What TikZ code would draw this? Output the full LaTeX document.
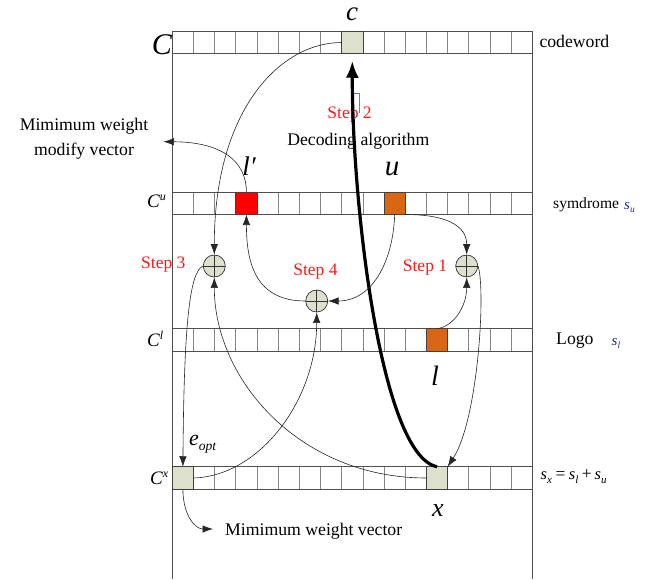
\documentclass[tikz,border=0pt]{standalone}
\usepackage{fontspec}
\setmainfont{Liberation Serif}
\usetikzlibrary{arrows.meta}
\definecolor{olivefill}{RGB}{220,224,205}
\definecolor{orangecell}{RGB}{217,102,18}
\definecolor{stepred}{RGB}{255,25,25}
\definecolor{cellline}{RGB}{135,135,135}
\definecolor{rowline}{RGB}{80,80,80}
\definecolor{sblue}{RGB}{30,40,130}
\definecolor{markblue}{RGB}{80,130,200}
\newcommand\fsz[1]{\fontsize{#1}{#1}\selectfont}
\begin{document}
\begin{tikzpicture}[x=1pt,y=-1pt,
  cell/.style={draw=cellline, line width=0.8pt, minimum width=21.18pt, minimum height=22.5pt, inner sep=0pt, outer sep=0pt},
  hcell/.style={cell, draw=black!75},
  xorc/.style={circle, draw=black!80, line width=0.7pt, fill=olivefill, minimum size=22pt, inner sep=0pt,
    path picture={\draw[black!80, line width=0.6pt] (path picture bounding box.north) -- (path picture bounding box.south) (path picture bounding box.west) -- (path picture bounding box.east);}},
  conn/.style={draw=black!85, line width=0.6pt},
  arr/.style={conn, -{Latex[length=10.5pt,width=7.5pt]}},
  bigarr/.style={draw=black, line width=3.2pt, -{Latex[length=17pt,width=13pt]}},
  steplbl/.style={text=stepred, font=\fsz{17.5}, inner sep=0pt},
  txt/.style={font=\fsz{17.7}, inner sep=0pt},
  ilbl/.style={inner sep=0pt},
]
\useasboundingbox (0,0) rectangle (664,579);

% frame
\draw[rowline, line width=0.8pt] (172.3,31.25) -- (172.3,579);
\draw[rowline, line width=0.8pt] (532.3,31.25) -- (532.3,579);

% rows of cells
\foreach \r/\y in {C/42.5, U/203.25, L/340, X/478}{
  \foreach \i in {0,...,16}{
    \node[cell] (\r\i) at ({172.3+21.18*(\i+0.5)},\y) {};
  }
  \draw[rowline, line width=0.8pt] (\r0.north west) rectangle (\r16.south east);
}

% highlighted cells
\node[hcell, fill=olivefill] (c) at (C8) {};
\node[hcell, fill=red] (lp) at (U3) {};
\node[hcell, fill=orangecell] (u) at (U10) {};
\node[hcell, fill=orangecell] (l) at (L12) {};
\node[hcell, fill=olivefill] (x) at (X12) {};
\node[hcell, fill=olivefill] (e) at (X0) {};

% xor circles
\node[xorc] (s3) at (214.3,266) {};
\node[xorc] (s4) at (316.7,301) {};
\node[xorc] (s1) at (466.7,266) {};

% row labels
\node[ilbl, anchor=base, font=\fsz{30}\itshape] (Clbl) at (162,54.3) {C};
\node[ilbl, anchor=base, font=\fsz{27}\itshape, text height=13pt, text depth=0pt] (clbl) at (352,20) {c};
\node[ilbl, anchor=base west] (Culbl) at (147,207) {{\fsz{19}\itshape C}\raisebox{7pt}{\fsz{12}\itshape u}};
\node[ilbl, anchor=base west] (Cllbl) at (147,346) {{\fsz{19}\itshape C}\raisebox{7pt}{\fsz{12}\itshape l}};
\node[ilbl, anchor=base west] (Cxlbl) at (150,484) {{\fsz{19}\itshape C}\raisebox{7pt}{\fsz{12}\itshape x}};

% cell labels
\node[ilbl, anchor=base, font=\fsz{27}\itshape] (lplbl) at (249,175) {l′};
\node[ilbl, anchor=base, font=\fsz{29}\itshape] (ulbl) at (392,175) {u};
\node[ilbl, anchor=base, font=\fsz{28}\itshape] (llbl) at (435,385) {l};
\node[ilbl, anchor=base, font=\fsz{26}\itshape] (xlbl) at (438,516) {x};
\node[ilbl, anchor=base west] (elbl) at (189,445) {{\fsz{22}\itshape e}\raisebox{-5pt}{\fsz{13.5}\itshape opt}};

% right labels
\node[txt, anchor=base west] (cw) at (539.3,47.7) {codeword};
\node[ilbl, anchor=base west, font=\fsz{15.6}] (sym) at (553,208) {symdrome};
\node[ilbl, anchor=base west, text=sblue] (su) at (624,209.5) {{\fsz{15}\itshape s}\raisebox{-3pt}{\fsz{9.5}\itshape u}};
\node[txt, anchor=base west] (logo) at (556,344.5) {Logo};
\node[ilbl, anchor=base west, text=sblue] (sl) at (611.5,345.7) {{\fsz{15}\itshape s}\raisebox{-3pt}{\fsz{9.5}\itshape l}};
\node[ilbl, anchor=base west] (eq) at (540.5,479.5) {{\fsz{16.5}\itshape s}\raisebox{-3.5pt}{\fsz{11}\itshape x}\hspace{3.5pt}{\fsz{17.5}=}\hspace{3.5pt}{\fsz{16.5}\itshape s}\raisebox{-3.5pt}{\fsz{11}\itshape l}\hspace{3.5pt}{\fsz{17.5}+}\hspace{3pt}{\fsz{16.5}\itshape s}\raisebox{-3.5pt}{\fsz{11}\itshape u}};

% left / bottom labels
\node[txt, align=center, font=\fontsize{17.7}{25}\selectfont] (mwmv) at (84,139) {Mimimum weight\\modify vector};
\node[txt, anchor=west] (mwv) at (225,531) {Mimimum weight vector};
\coordinate (mmvtip) at (163.5,141.7);
\coordinate (mwvtip) at (213,529);

% step labels
\node[steplbl] (st3) at (163.3,265) {Step 3};
\node[steplbl] (st4) at (315.5,271.7) {Step 4};
\node[steplbl] (st1) at (425,267.3) {Step 1};
\draw[markblue, line width=0.6pt] (351,101) -- (351,93.5) -- (359,93.5) -- (359,113);
\node[steplbl] (st2) at (349.6,115) {Step 2};
\node[txt] (dec) at (358.3,141) {Decoding algorithm};

% connectors
\draw[bigarr, shorten >=7pt] (x.north) .. controls (380,455) and (352,200) .. (c.south);

\draw[arr] (u.south east) .. controls (445,214.5) and (466.7,225) .. (s1.north);
\draw[arr] (l.north) .. controls (455,326) and (466.7,305) .. (s1.south);
\draw[arr] (s1.east) .. controls (486,290) and (478,420) .. (x.north east);

\draw[arr] (c.west) .. controls (280,42.5) and (214.3,110) .. (s3.north);
\draw[arr] (x.west) .. controls (300,478) and (214.3,380) .. (s3.south);
\draw[arr] (s3.west) .. controls (190,272) and (184,320) .. (e.north);

\draw[arr] (e.east) .. controls (260,476) and (316.7,400) .. (s4.south);
\draw[arr] (u.south) .. controls (393,262) and (372,301) .. (s4.east);
\draw[arr] (s4.west) .. controls (255,301) and (246.4,262) .. (lp.south);

\draw[arr] (lp.north) .. controls (246.4,160) and (220,142) .. (mmvtip);
\draw[arr] (e.south) .. controls (183,515) and (195,529) .. (mwvtip);
\end{tikzpicture}
\end{document}
